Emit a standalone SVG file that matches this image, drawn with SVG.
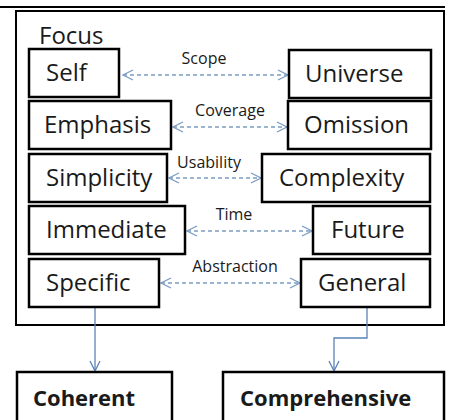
<svg xmlns="http://www.w3.org/2000/svg" width="454" height="420" viewBox="0 0 454 420">
<defs>
<style>
.box{fill:#fff;stroke:#000;stroke-width:2.5}
.frame{fill:#fff;stroke:#000;stroke-width:2}
.t{font-family:"Open Sans","Liberation Sans",sans-serif;font-size:24px;fill:#1a1a1a}
.tb{font-family:"Open Sans","Liberation Sans",sans-serif;font-size:22px;font-weight:bold;fill:#1a1a1a}
.lbl{font-family:"Open Sans","Liberation Sans",sans-serif;font-size:16px;fill:#1a1a1a;text-anchor:middle}
.dash{fill:none;stroke:#7b9cc4;stroke-width:1.3;stroke-dasharray:4 3;marker-start:url(#open);marker-end:url(#open)}
.solid{fill:none;stroke:#5a83b8;stroke-width:1.3;marker-end:url(#open2)}
</style>
<marker id="open" viewBox="0 0 12 12" refX="11" refY="6" markerWidth="12" markerHeight="12" markerUnits="userSpaceOnUse" orient="auto-start-reverse">
<path d="M1,1 L11,6 L1,11" fill="none" stroke="#7b9cc4" stroke-width="1.3"/>
</marker>
<marker id="open2" viewBox="0 0 12 12" refX="11" refY="6" markerWidth="12" markerHeight="12" markerUnits="userSpaceOnUse" orient="auto">
<path d="M1,1 L11,6 L1,11" fill="none" stroke="#5a83b8" stroke-width="1.3"/>
</marker>
</defs>
<rect width="454" height="420" fill="#fff"/>
<line x1="0" y1="7" x2="445" y2="7" stroke="#000" stroke-width="2"/>
<g id="frame">
<rect class="frame" x="16" y="11" width="428" height="314"/>
<text class="t" x="39" y="44">Focus</text>
</g>
<g id="connectors">
<line class="dash" x1="123" y1="75" x2="288" y2="75"/>
<line class="dash" x1="173" y1="127" x2="287" y2="127"/>
<line class="dash" x1="169" y1="178" x2="261" y2="178"/>
<line class="dash" x1="187" y1="231" x2="312" y2="231"/>
<line class="dash" x1="161" y1="283" x2="300" y2="283"/>
<text class="lbl" x="204" y="64">Scope</text>
<text class="lbl" x="230" y="116">Coverage</text>
<text class="lbl" x="209" y="168">Usability</text>
<text class="lbl" x="234" y="220">Time</text>
<text class="lbl" x="235" y="272">Abstraction</text>
<polyline class="solid" points="95,308 95,371"/>
<polyline class="solid" points="367,308 367,338 334,338 334,371"/>
</g>
<g id="self"><rect class="box" x="29" y="49" width="90" height="48"/><text class="t" x="46" y="81">Self</text></g>
<g id="universe"><rect class="box" x="289" y="50" width="142" height="48"/><text class="t" x="305" y="82">Universe</text></g>
<g id="emphasis"><rect class="box" x="29" y="101" width="142" height="48"/><text class="t" x="44" y="133">Emphasis</text></g>
<g id="omission"><rect class="box" x="288" y="101" width="143" height="48"/><text class="t" x="304" y="133">Omission</text></g>
<g id="simplicity"><rect class="box" x="29" y="154" width="138" height="48"/><text class="t" x="46" y="186">Simplicity</text></g>
<g id="complexity"><rect class="box" x="262" y="154" width="168" height="48"/><text class="t" x="279" y="186">Complexity</text></g>
<g id="immediate"><rect class="box" x="29" y="206" width="156" height="48"/><text class="t" x="46" y="238">Immediate</text></g>
<g id="future"><rect class="box" x="313" y="206" width="117" height="48"/><text class="t" x="331" y="238">Future</text></g>
<g id="specific"><rect class="box" x="29" y="259" width="130" height="48"/><text class="t" x="46" y="291">Specific</text></g>
<g id="general"><rect class="box" x="301" y="259" width="129" height="48"/><text class="t" x="318" y="291">General</text></g>
<g id="coherent"><rect class="box" x="17" y="372" width="155" height="60"/><text class="tb" x="33" y="406">Coherent</text></g>
<g id="comprehensive"><rect class="box" x="223" y="372" width="221" height="60"/><text class="tb" x="240" y="406">Comprehensive</text></g>
</svg>
